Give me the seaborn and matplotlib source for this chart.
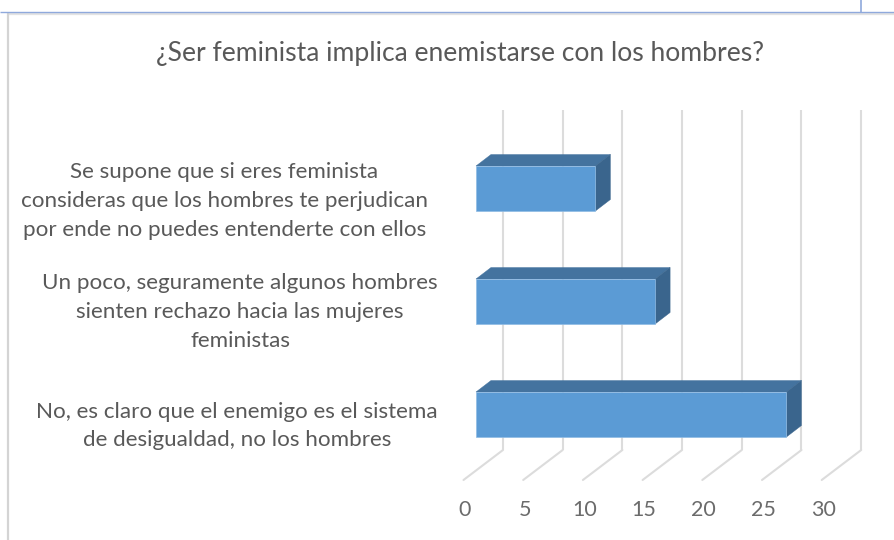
import matplotlib
matplotlib.use("Agg")
import matplotlib.pyplot as plt
import seaborn as sns
import pandas as pd
from matplotlib.lines import Line2D
from matplotlib.patches import Polygon
from matplotlib.transforms import ScaledTranslation

categories = [
    "Se supone que si eres feminista\nconsideras que los hombres te perjudican\npor ende no puedes entenderte con ellos",
    "Un poco, seguramente algunos hombres\nsienten rechazo hacia las mujeres\nfeministas",
    "No, es claro que el enemigo es el sistema\nde desigualdad, no los hombres",
]
values = [10, 15, 26]
xticks = [0, 5, 10, 15, 20, 25, 30]
title = "¿Ser feminista implica enemistarse con los hombres?"

W, H, DPI = 895, 540, 100
sns.set_theme(style="white")
plt.rcParams["font.family"] = ["Lato", "DejaVu Sans"]
TEXT = "#595959"; GRID = "#DCDCDC"
FRONT = "#5B9BD5"; TOP = "#44739F"; SIDE = "#3A658D"; EDGE = "#8FBBE4"

fig = plt.figure(figsize=(W / DPI, H / DPI), dpi=DPI, facecolor="white")
ax = fig.add_axes([476 / W, 1 - 471 / H, 358.2 / W, 339 / H])
df = pd.DataFrame({"cat": categories, "val": values})
sns.barplot(data=df, y="cat", x="val", order=categories, orient="h", color=FRONT,
            saturation=1, width=45 / 113, ax=ax, zorder=3, edgecolor=EDGE, linewidth=0.5)
ax.set_xlim(0, 30)
ax.set_ylim(2.5, -0.5)
ax.set_xlabel(""); ax.set_ylabel("")
for s in ax.spines.values():
    s.set_visible(False)
ax.patch.set_alpha(0)

ux = 358.2 / 30   # pixels per x unit
uy = 113.0        # pixels per category
def px(dx): return dx / ux
def py(dy): return dy / uy

# pseudo-3D depth: wall behind the bars, floor in front of them
floor_y = py(450 - 414.5)
floor_top = py(110 - 414.5)
for t in xticks:
    bx = t + px(27)
    ax.plot([bx, bx], [2 + floor_top, 2 + floor_y], color=GRID, lw=1.5, zorder=1, clip_on=False,
            solid_capstyle="butt")
    ax.plot([bx, t + px(-12.5)], [2 + floor_y, 2 + py(480 - 414.5)], color=GRID, lw=1.5, zorder=1,
            clip_on=False)

# top and side faces derived from each bar
dx, dy = px(15), py(-11.5)
for bar in ax.patches:
    x0, w = bar.get_x(), bar.get_width()
    y0 = bar.get_y(); y1 = y0 + bar.get_height()
    ytop, ybot = min(y0, y1), max(y0, y1)
    x1 = x0 + w
    ax.add_patch(Polygon([(x0, ytop), (x1, ytop), (x1 + dx, ytop + dy), (x0 + dx, ytop + dy)],
                         closed=True, fc=TOP, ec=TOP, lw=0.3, zorder=2.5, clip_on=False))
    ax.add_patch(Polygon([(x1, ytop), (x1 + dx, ytop + dy), (x1 + dx, ybot + dy), (x1, ybot)],
                         closed=True, fc=SIDE, ec=SIDE, lw=0.3, zorder=2.5, clip_on=False))

ax.set_xticks(xticks)
ax.set_xticklabels([str(t) for t in xticks])
ax.tick_params(axis="x", length=0, pad=0, labelsize=15.5, labelcolor="#6B6B6B")
ax.tick_params(axis="y", length=0, pad=27.4, labelsize=16.1, labelcolor=TEXT)
shift = ScaledTranslation(-11 / DPI, -(500 - 471) / DPI, fig.dpi_scale_trans)
for lab in ax.get_xticklabels():
    lab.set_transform(lab.get_transform() + shift)
for lab, ox, oy in zip(ax.get_yticklabels(), [-10, 0, 0], [-6, -4, -5]):
    lab.set_multialignment("center")
    lab.set_linespacing(1.55)
    lab.set_transform(lab.get_transform() + ScaledTranslation(ox / DPI, oy / DPI, fig.dpi_scale_trans))

fig.text(460 / W, 1 - 53 / H, title, ha="center", va="center", fontsize=19.1, color=TEXT)

# surrounding chart frame
def hline(x0, y0, x1, y1, c, lw):
    fig.add_artist(Line2D([x0 / W, x1 / W], [1 - y0 / H, 1 - y1 / H], color=c, lw=lw,
                          solid_capstyle="butt"))
hline(8, 13.5, 895, 13.5, "#E3E3E3", 1.6)
hline(8, 13, 8, 540, "#D4D4D4", 1.6)
hline(0, 11.8, 895, 11.8, "#8FA9DC", 1.0)
hline(861, 0, 861, 12, "#8FA9DC", 1.2)

fig.savefig("out.png", dpi=DPI)
